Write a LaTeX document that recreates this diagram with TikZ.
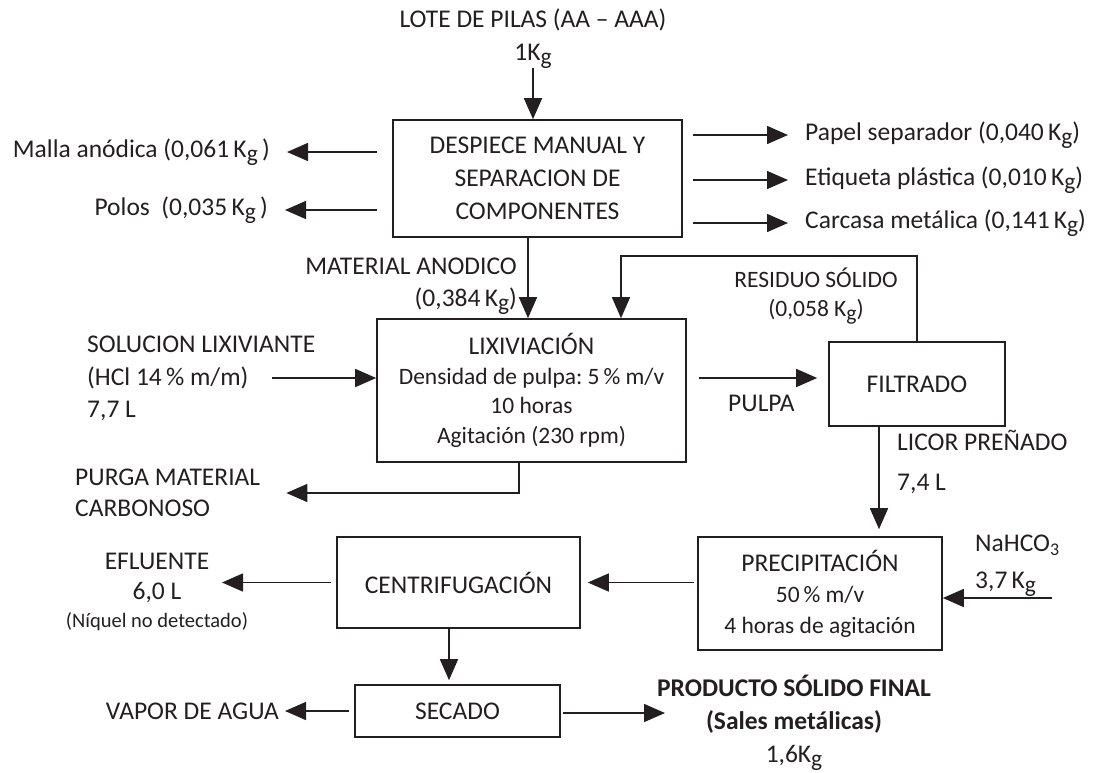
\documentclass[tikz,border=0pt]{standalone}
\usepackage{fontspec}
\setmainfont{Carlito}
\usepackage{tikz}
\usetikzlibrary{arrows.meta,positioning}
\definecolor{tinta}{HTML}{231F20}
\frenchspacing
\newcommand{\Kg}{K\raisebox{-0.15em}{\scalebox{0.92}{g}}}
\newcommand{\letramed}{\fontsize{23.5}{29.5}\selectfont}
\newcommand{\letrachica}{\fontsize{20.5}{24}\selectfont}

\begin{document}
\begin{tikzpicture}[x=1pt,y=-1pt,
    every node/.style={text=tinta,font=\fontsize{25.5}{33}\selectfont},
    caja/.style={draw=tinta,line width=1.6pt,align=center,inner sep=0pt},
    etiq/.style={inner sep=0pt,align=center},
    flecha/.style={draw=tinta,line width=1.5pt,-{Triangle[length=21pt,width=18pt]}}]
    \useasboundingbox (0,0) rectangle (1101,772);

    \node[caja,minimum width=289pt,minimum height=117pt] (desp) at (537.5,178.5) {DESPIECE MANUAL Y\\SEPARACION DE\\COMPONENTES};
    \node[caja,minimum width=309pt,minimum height=143pt,font=\fontsize{25.5}{29.5}\selectfont] (lix) at (531.5,390.5) {LIXIVIACIÓN\\\letramed Densidad de pulpa: 5\,\% m/v\\\letramed 10 horas\\\letramed Agitación (230 rpm)};
    \node[caja,minimum width=176pt,minimum height=84pt] (filt) at (917,384) {FILTRADO};
    \node[caja,minimum width=244pt,minimum height=113pt,font=\fontsize{25.5}{31}\selectfont] (prec) at (820,593.5) {PRECIPITACIÓN\\\letramed 50\,\% m/v\\\letramed 4 horas de agitación};
    \node[caja,minimum width=243pt,minimum height=91pt] (cent) at (458.5,582.5) {CENTRIFUGACIÓN};
    \node[caja,minimum width=205pt,minimum height=52pt] (sec) at (457.5,711) {SECADO};

    \node[etiq] (lote) at (533,38.5) {LOTE DE PILAS (AA – AAA)\\1\Kg};
    \node[etiq,anchor=east] (malla) at (270,152) {Malla anódica (0,061\,\Kg\,)};
    \node[etiq,anchor=east] (polos) at (268,210) {Polos~~(0,035\,\Kg\,)};
    \node[etiq,anchor=west] (papel) at (805,135) {Papel separador (0,040\,\Kg)};
    \node[etiq,anchor=west] (etiqueta) at (805,180) {Etiqueta plástica (0,010\,\Kg)};
    \node[etiq,anchor=west] (carcasa) at (805,223) {Carcasa metálica (0,141\,\Kg)};
    \node[etiq,anchor=east,align=right] (matanod) at (517,286) {MATERIAL ANODICO\\[-1pt](0,384\,\Kg)};
    \node[etiq,font=\letramed] (resid) at (816,296) {RESIDUO SÓLIDO\\(0,058 \Kg)};
    \node[etiq,anchor=west,align=left] (sol) at (87,378) {SOLUCION LIXIVIANTE\\(HCl 14\,\% m/m)\\[-1pt]7,7 L};
    \node[etiq,anchor=west] (pulpa) at (728,403) {PULPA};
    \node[etiq,anchor=west,align=left] (purga) at (75,493) {PURGA MATERIAL\\[-2pt]CARBONOSO};
    \node[etiq,anchor=west,align=left] (licor) at (897,462) {LICOR PREÑADO\\[7pt]7,4 L};
    \node[etiq,anchor=west,align=left] (nahco) at (975,566) {NaHCO\textsubscript{3}\\[4pt]3,7\,\Kg};
    \node[etiq,font=\fontsize{25.5}{30}\selectfont] (eflu) at (157,592) {EFLUENTE\\6,0 L\\[-2pt]\letrachica (Níquel no detectado)};
    \node[etiq,anchor=east] (vapor) at (279,711) {VAPOR DE AGUA};
    \node[etiq] (prod) at (794,723) {\textbf{PRODUCTO SÓLIDO FINAL}\\\textbf{(Sales metálicas)}\\1,6\Kg};

    \coordinate (efout) at (222,582.5);
    \coordinate (prodin) at (665,713);

    \draw[flecha] (lote.south) -- (lote.south |- desp.north);
    \draw[flecha,shorten <=15pt,shorten >=17pt] (desp.west |- malla) -- (malla);
    \draw[flecha,shorten <=15pt,shorten >=17pt] (desp.west |- polos) -- (polos);
    \draw[flecha,shorten <=10pt,shorten >=17pt] (desp.east |- papel) -- (papel);
    \draw[flecha,shorten <=10pt,shorten >=17pt] (desp.east |- etiqueta) -- (etiqueta);
    \draw[flecha,shorten <=10pt,shorten >=17pt] (desp.east |- carcasa) -- (carcasa);
    \draw[flecha] ([xshift=-9.5pt]desp.south) -- ([xshift=-9.5pt]desp.south |- lix.north);
    \draw[flecha] (filt.north) -- ++(0,-85) -| ([xshift=89.5pt]lix.north);
    \draw[flecha] ([xshift=-104pt]lix.west |- sol) -- (lix.west |- sol);
    \draw[flecha,shorten <=12pt,shorten >=11pt] ([yshift=6pt]filt.west -| lix.east) -- ([yshift=6pt]filt.west);
    \draw[flecha,shorten >=26pt] ([xshift=-12.5pt]lix.south) |- (purga.east);
    \draw[flecha,shorten >=7pt] ([xshift=-38pt]filt.south) -- ([xshift=-38pt]filt.south |- prec.north);
    \draw[flecha] ([xshift=109pt,yshift=-4.5pt]prec.east) -- ([yshift=-4.5pt]prec.east);
    \draw[flecha,shorten <=3pt,shorten >=7pt] (prec.west |- cent.east) -- (cent.east);
    \draw[flecha,shorten <=5pt] (cent.west) -- (efout);
    \draw[flecha,shorten >=4pt] ([xshift=-9.5pt]cent.south) -- ([xshift=-9.5pt]cent.south |- sec.north);
    \draw[flecha,shorten <=5pt,shorten >=6pt] (sec.west) -- (vapor);
    \draw[flecha,shorten <=2pt] (sec.east |- prodin) -- (prodin);
\end{tikzpicture}
\end{document}
